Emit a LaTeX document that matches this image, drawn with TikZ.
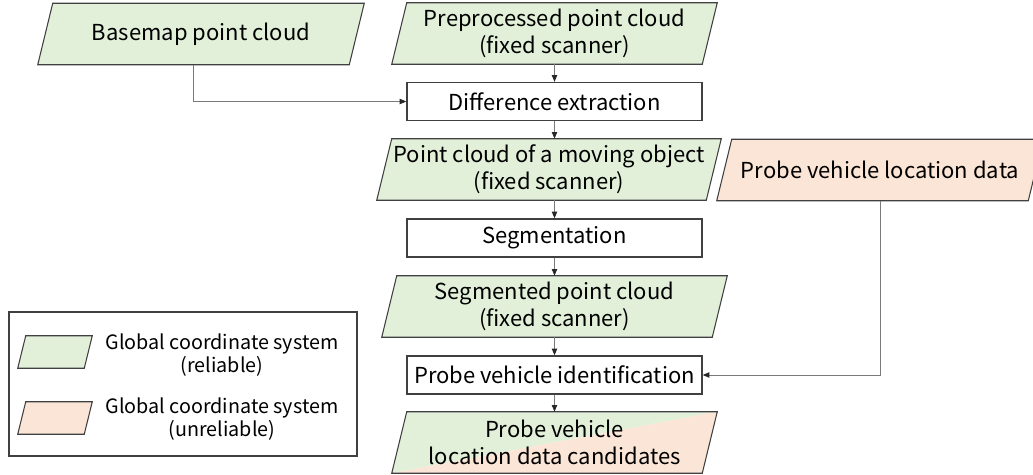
\documentclass[tikz,border=0pt]{standalone}
\usepackage{fontspec}
\setmainfont{Noto Sans CJK JP}
\usetikzlibrary{arrows.meta,backgrounds,calc}
\definecolor{reliable}{HTML}{E2F0D9}
\definecolor{unreliable}{HTML}{FBE5D6}
\definecolor{edge}{HTML}{404040}
\definecolor{wire}{HTML}{7A7A7A}
\def\px{0.75pt}
% slanted outline around a node: #1 node, #2 half slant, #3 fill
\newcommand\paral[3]{%
  \filldraw[fill=#3, draw=edge, line width=0.8pt]
    ($(#1.north west)+(#2,0)$) -- ($(#1.north east)+(#2,0)$) --
    ($(#1.south east)-(#2,0)$) -- ($(#1.south west)-(#2,0)$) -- cycle;}
\begin{document}
\begin{tikzpicture}[x=\px, y=-\px,
  every node/.style={inner sep=0pt, align=center, font=\fontsize{16.5}{20}\selectfont},
  stepbox/.style={draw=edge, line width=1pt, fill=white, minimum height=38*\px, minimum width=295*\px},
  databox/.style={minimum height=61*\px},
  swatch/.style={minimum width=66*\px, minimum height=32*\px},
  legendtext/.style={font=\fontsize{14.8}{17}\selectfont},
  wire/.style={draw=wire, line width=0.75pt, -{Triangle[length=5pt,width=4pt,color=black!85]}},
]
\useasboundingbox (0,0) rectangle (1033,475);

% data and processing steps
\node[databox, minimum width=311*\px] (base) at (201,34) {Basemap point cloud};
\node[databox, minimum width=310*\px] (pre) at (554.5,33.5) {Preprocessed point cloud\\(fixed scanner)};
\node[stepbox] (diff) at (554.5,101.5) {Difference extraction};
\node[databox, minimum width=329*\px] (move) at (549,169.5) {Point cloud of a moving object\\(fixed scanner)};
\node[databox, minimum width=311*\px] (probe) at (880,170) {Probe vehicle location data};
\node[stepbox] (seg) at (554.5,238) {Segmentation};
\node[databox, minimum width=330*\px] (segd) at (554.5,306.5) {Segmented point cloud\\(fixed scanner)};
\node[stepbox] (ident) at (554.5,375) {Probe vehicle identification};
\node[databox, minimum width=310*\px] (cand) at (554.5,442.5) {Probe vehicle\\location data candidates};

% legend
\node[draw=edge, line width=0.8pt, minimum width=348*\px, minimum height=144*\px] (legend) at (183,384) {};
\node[swatch] (swr) at (55,352) {};
\node[swatch] (swu) at (55,418) {};
\node[legendtext] (lr) at (222,355) {Global coordinate system\\(reliable)};
\node[legendtext] (lu) at (222,419) {Global coordinate system\\(unreliable)};

\begin{scope}[on background layer]
  \paral{base}{7.5}{reliable}
  \paral{pre}{7.5}{reliable}
  \paral{move}{7.5}{reliable}
  \paral{segd}{7.5}{reliable}
  \paral{probe}{7.5}{unreliable}
  \paral{swr}{4}{reliable}
  \paral{swu}{4}{unreliable}
  % two-tone candidates: split along the diagonal
  \fill[reliable] ($(cand.north west)+(7.5,0)$) -- ($(cand.north east)+(7.5,0)$) -- ($(cand.south west)-(7.5,0)$) -- cycle;
  \fill[unreliable] ($(cand.north east)+(7.5,0)$) -- ($(cand.south east)-(7.5,0)$) -- ($(cand.south west)-(7.5,0)$) -- cycle;
  \paral{cand}{7.5}{none}
\end{scope}

% connectors
\draw[wire] ($(base.south)-(7.5,0)$) |- (diff.west);
\draw[wire] (pre.south) -- (diff.north);
\draw[wire] (diff.south) -- (diff.south |- move.north);
\draw[wire] (seg.north |- move.south) -- (seg.north);
\draw[wire] (seg.south) -- (segd.north);
\draw[wire] (segd.south) -- (ident.north);
\draw[wire] (ident.south) -- (cand.north);
\draw[wire] (probe.south) |- (ident.east);
\end{tikzpicture}
\end{document}
